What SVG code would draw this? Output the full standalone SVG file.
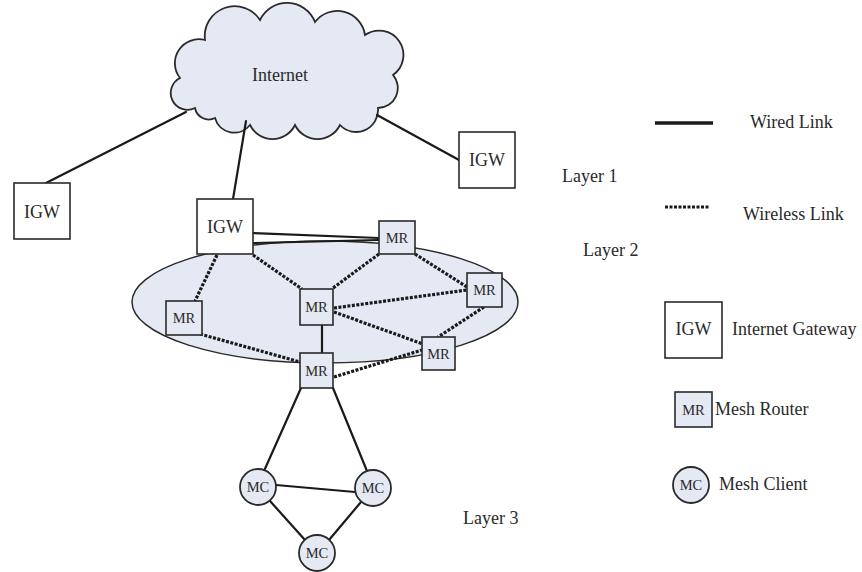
<svg xmlns="http://www.w3.org/2000/svg" width="862" height="572" viewBox="0 0 862 572">
<style>
text{font-family:"Liberation Serif","Times New Roman",serif;fill:#2a2a2a;}
.lbl{font-size:18px;}
.big{font-size:18px;text-anchor:middle;}
.sm{font-size:14.5px;text-anchor:middle;}
.igw{fill:#ffffff;stroke:#2a2a2a;stroke-width:1.6;}
.mr{fill:#e4e9f3;stroke:#2a2a2a;stroke-width:1.6;}
.mc{fill:#e4e9f3;stroke:#2a2a2a;stroke-width:1.8;}
.wired{stroke:#1a1a1a;stroke-width:2.2;fill:none;stroke-linecap:round;}
.wless{stroke:#1a1a1a;stroke-width:3.2;fill:none;stroke-dasharray:3 1.5;}
</style>
<rect width="862" height="572" fill="#ffffff"/>
<g id="cloud">
<path d="M195,108 A16,16 0 0 1 180,78 A24,24 0 0 1 205,40 A30,30 0 0 1 260,20 A30,30 0 0 1 315,22 A28,28 0 0 1 365,35 A24,24 0 0 1 393,75 A20,20 0 0 1 378,108 A22,22 0 0 1 340,125 A25,25 0 0 1 295,125 A25,25 0 0 1 250,125 A20,20 0 0 1 215,118 A14,14 0 0 1 195,108 Z" fill="#e4e9f3" stroke="#2a2a2a" stroke-width="1.8"/>
<text class="big" x="280" y="81">Internet</text>
</g>
<g id="layer2-area">
<ellipse cx="325" cy="302" rx="193" ry="61" fill="#e4e9f3" stroke="#2a2a2a" stroke-width="1.5"/>
</g>
<g id="connectors">
<line class="wired" x1="186" y1="112" x2="46" y2="183"/>
<line class="wired" x1="246" y1="121" x2="233" y2="199"/>
<line class="wired" x1="377" y1="115" x2="459" y2="160"/>
<line class="wired" x1="253" y1="233" x2="379" y2="238" stroke-width="1.8"/>
<line class="wired" x1="253" y1="243" x2="379" y2="240" stroke-width="1.8"/>
<line class="wired" x1="322" y1="325" x2="322" y2="353"/>
<line class="wired" x1="301" y1="388" x2="264" y2="471"/>
<line class="wired" x1="333" y1="388" x2="367" y2="471"/>
<line class="wired" x1="276" y1="485" x2="355" y2="492"/>
<line class="wired" x1="270" y1="501" x2="305" y2="540"/>
<line class="wired" x1="361" y1="502" x2="329" y2="540"/>
<line class="wless" x1="217" y1="255" x2="195" y2="301"/>
<line class="wless" x1="253" y1="255" x2="302" y2="289"/>
<line class="wless" x1="379" y1="254" x2="333" y2="288"/>
<line class="wless" x1="415" y1="254" x2="467" y2="287"/>
<line class="wless" x1="334" y1="308" x2="467" y2="290"/>
<line class="wless" x1="334" y1="312" x2="423" y2="344"/>
<line class="wless" x1="484" y1="307" x2="438" y2="337"/>
<line class="wless" x1="200" y1="334" x2="300" y2="362"/>
<line class="wless" x1="334" y1="377" x2="422" y2="350"/>
</g>
<g id="igw-left"><rect class="igw" x="14" y="183" width="56" height="56"/><text class="big" x="42" y="218">IGW</text></g>
<g id="igw-center"><rect class="igw" x="197" y="199" width="56" height="55"/><text class="big" x="225" y="233">IGW</text></g>
<g id="igw-right"><rect class="igw" x="459" y="132" width="56" height="56"/><text class="big" x="487" y="166">IGW</text></g>
<g id="mr-top"><rect class="mr" x="379" y="221" width="36" height="33"/><text class="sm" x="397" y="243">MR</text></g>
<g id="mr-right"><rect class="mr" x="467" y="273" width="35" height="34"/><text class="sm" x="484.5" y="295">MR</text></g>
<g id="mr-center"><rect class="mr" x="300" y="289" width="33" height="36"/><text class="sm" x="316.5" y="312">MR</text></g>
<g id="mr-left"><rect class="mr" x="166" y="301" width="36" height="34"/><text class="sm" x="184" y="323">MR</text></g>
<g id="mr-lowright"><rect class="mr" x="422" y="337" width="33" height="33"/><text class="sm" x="438.5" y="359">MR</text></g>
<g id="mr-bottom"><rect class="mr" x="300" y="353" width="33" height="35"/><text class="sm" x="316.5" y="376">MR</text></g>
<g id="mc-left"><circle class="mc" cx="258" cy="487" r="18"/><text class="sm" x="258" y="492">MC</text></g>
<g id="mc-right"><circle class="mc" cx="373" cy="488" r="18"/><text class="sm" x="373" y="493">MC</text></g>
<g id="mc-bottom"><circle class="mc" cx="317" cy="553" r="18"/><text class="sm" x="317" y="558">MC</text></g>
<g id="layers">
<text class="lbl" x="562" y="182">Layer 1</text>
<text class="lbl" x="583" y="256">Layer 2</text>
<text class="lbl" x="463" y="524">Layer 3</text>
</g>
<g id="legend">
<line x1="655" y1="123" x2="713" y2="123" stroke="#1a1a1a" stroke-width="3.5"/>
<text class="lbl" x="750" y="128">Wired Link</text>
<line x1="665" y1="207" x2="710" y2="207" class="wless"/>
<text class="lbl" x="743" y="220">Wireless Link</text>
<rect class="igw" x="665" y="302" width="57" height="56"/>
<text class="big" x="693.5" y="335">IGW</text>
<text class="lbl" x="732" y="335">Internet Gateway</text>
<rect class="mr" x="675" y="392" width="37" height="35"/>
<text class="sm" x="693.5" y="415">MR</text>
<text class="lbl" x="715" y="415">Mesh Router</text>
<circle class="mc" cx="691" cy="485" r="18"/>
<text class="sm" x="691" y="490">MC</text>
<text class="lbl" x="719" y="490">Mesh Client</text>
</g>
</svg>
